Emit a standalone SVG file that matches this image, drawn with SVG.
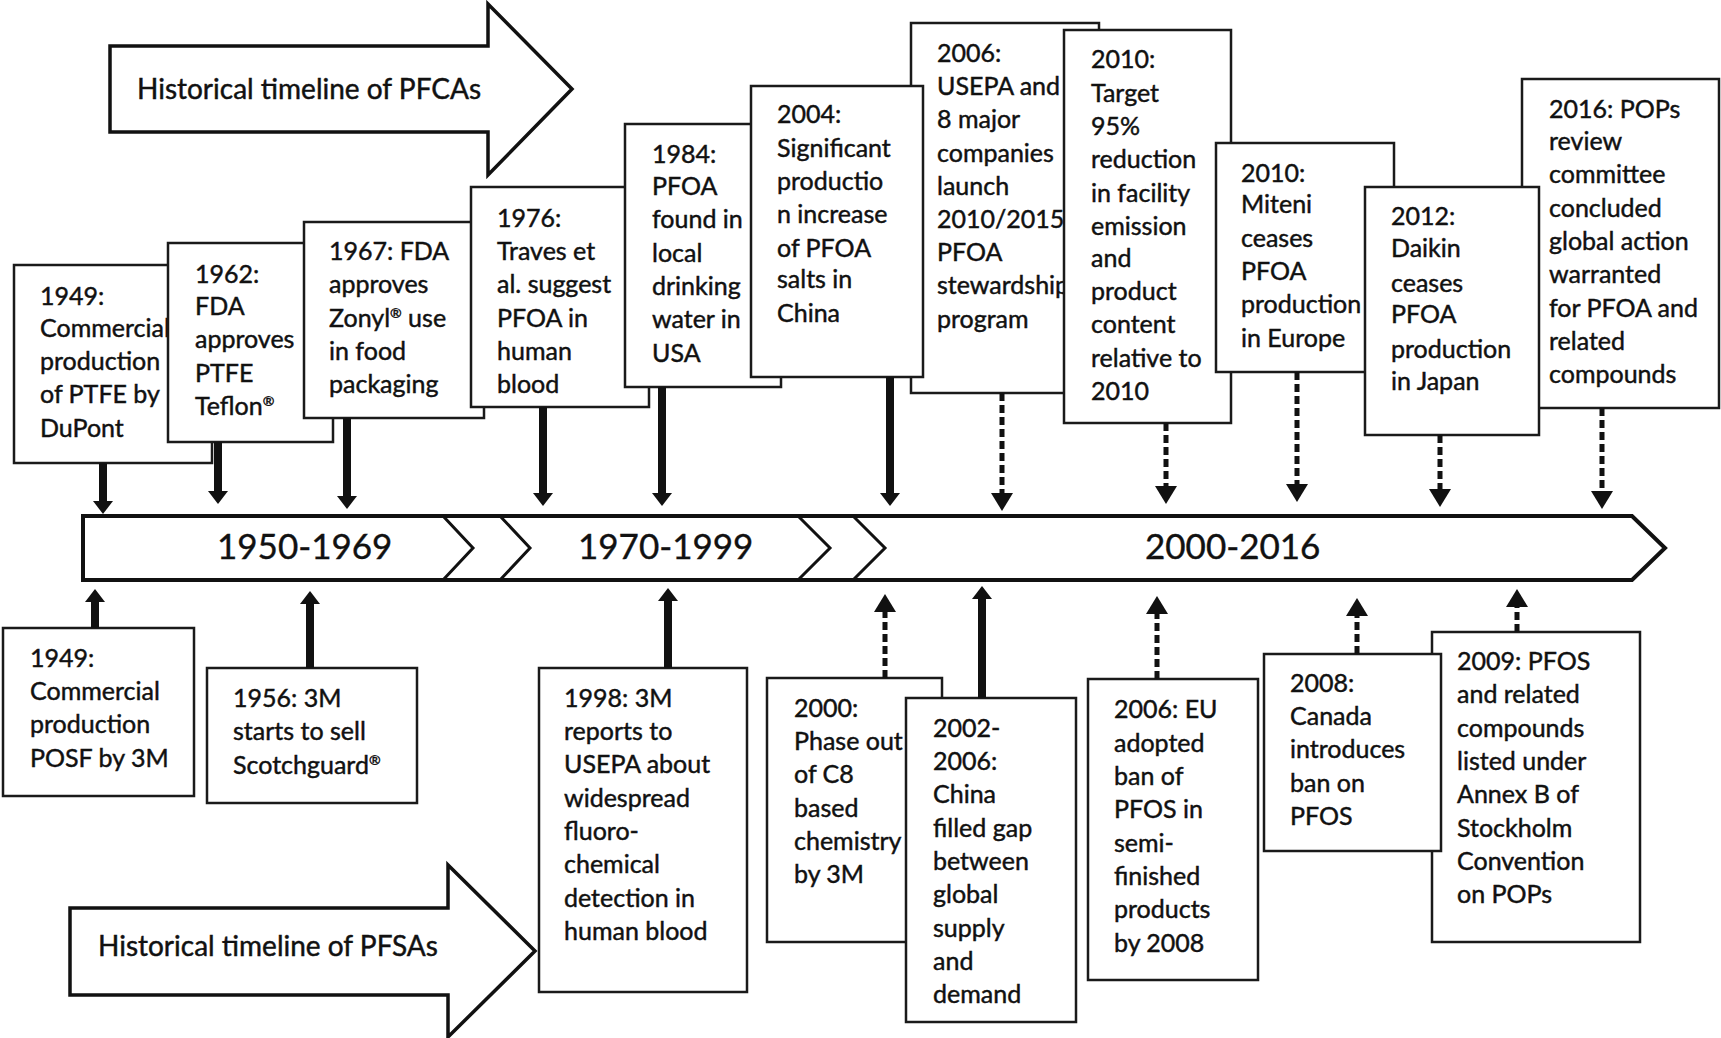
<svg xmlns="http://www.w3.org/2000/svg" width="1721" height="1038" viewBox="0 0 1721 1038">
<style>
  .bg { fill: #ffffff; }
  .box rect { fill: #ffffff; stroke: #1a1a1a; stroke-width: 2.5; }
  .box text { font-family: Lato, "Liberation Sans", sans-serif; font-size: 25px; fill: #111111; stroke: #111111; stroke-width: 0.45; }
  .big { fill: #ffffff; stroke: #111111; stroke-width: 3.5; stroke-linejoin: miter; }
  .bigtext { font-family: Lato, "Liberation Sans", sans-serif; font-size: 28px; fill: #111111; stroke: #111111; stroke-width: 0.45; }
  .period { font-family: Lato, "Liberation Sans", sans-serif; font-size: 35px; fill: #111111; stroke: #111111; stroke-width: 0.4; }
  .tl { fill: #ffffff; stroke: #111111; stroke-width: 4; stroke-linejoin: miter; }
  .chev { fill: none; stroke: #111111; stroke-width: 3; }
  .solid { fill: none; stroke: #111111; stroke-width: 8; }
  .dash { fill: none; stroke: #111111; stroke-width: 5; stroke-dasharray: 8 4; }
  .sup { font-size: 14px; }
</style>
<defs>
  <marker id="headSolid" markerUnits="userSpaceOnUse" viewBox="0 0 13 20" markerWidth="13" markerHeight="20" refX="1" refY="10" orient="auto">
    <path d="M0,0 L13,10 L0,20 Z" fill="#111111"/>
  </marker>
  <marker id="headDash" markerUnits="userSpaceOnUse" viewBox="0 0 18 22" markerWidth="18" markerHeight="22" refX="1" refY="11" orient="auto">
    <path d="M0,0 L18,11 L0,22 Z" fill="#111111"/>
  </marker>
</defs>
<rect class="bg" x="0" y="0" width="1721" height="1038"/>

<g id="pfca-arrow">
  <polygon class="big" points="110,46 488,46 488,4 572,89 488,175 488,132 110,132"/>
  <text class="bigtext" x="137" y="99">Historical timeline of PFCAs</text>
</g>

<g id="pfsa-arrow">
  <polygon class="big" points="70,908 448,908 448,865 535,951 448,1037 448,995 70,995"/>
  <text class="bigtext" x="98" y="956">Historical timeline of PFSAs</text>
</g>

<g id="timeline">
  <path class="tl" d="M83,516 H1632 L1665,548 L1632,580 H83 Z"/>
  <path class="chev" d="M443,516 L473,548 L443,580"/>
  <path class="chev" d="M500,516 L530,548 L500,580"/>
  <path class="chev" d="M798,516 L830,548 L798,580"/>
  <path class="chev" d="M853,516 L885,548 L853,580"/>
  <text class="period" x="217" y="559">1950-1969</text>
  <text class="period" x="578" y="559">1970-1999</text>
  <text class="period" x="1145" y="559">2000-2016</text>
</g>

<!-- PFCA events (top) -->
<g id="n1949-ptfe" class="box">
  <rect x="14" y="265" width="198" height="198"/>
  <text><tspan x="40" y="305">1949:</tspan><tspan x="40" y="337">Commercial</tspan><tspan x="40" y="370">production</tspan><tspan x="40" y="403">of PTFE by</tspan><tspan x="40" y="437">DuPont</tspan></text>
</g>
<g id="n1962-teflon" class="box">
  <rect x="168" y="243" width="165" height="199"/>
  <text><tspan x="195" y="283">1962:</tspan><tspan x="195" y="315">FDA</tspan><tspan x="195" y="348">approves</tspan><tspan x="195" y="382">PTFE</tspan><tspan x="195" y="415">Teflon<tspan class="sup" dy="-9">®</tspan></tspan></text>
</g>
<g id="n1967-zonyl" class="box">
  <rect x="304" y="222" width="180" height="196"/>
  <text><tspan x="329" y="260">1967: FDA</tspan><tspan x="329" y="293">approves</tspan><tspan x="329" y="327">Zonyl<tspan class="sup" dy="-9">®</tspan><tspan dy="9"> use</tspan></tspan><tspan x="329" y="360">in food</tspan><tspan x="329" y="393">packaging</tspan></text>
</g>
<g id="n1976-blood" class="box">
  <rect x="471" y="187" width="178" height="220"/>
  <text><tspan x="497" y="227">1976:</tspan><tspan x="497" y="260">Traves et</tspan><tspan x="497" y="293">al. suggest</tspan><tspan x="497" y="327">PFOA in</tspan><tspan x="497" y="360">human</tspan><tspan x="497" y="393">blood</tspan></text>
</g>
<g id="n1984-water" class="box">
  <rect x="625" y="124" width="156" height="263"/>
  <text><tspan x="652" y="163">1984:</tspan><tspan x="652" y="195">PFOA</tspan><tspan x="652" y="228">found in</tspan><tspan x="652" y="262">local</tspan><tspan x="652" y="295">drinking</tspan><tspan x="652" y="328">water in</tspan><tspan x="652" y="362">USA</tspan></text>
</g>
<g id="n2006-usepa" class="box">
  <rect x="911" y="23" width="188" height="370"/>
  <text><tspan x="937" y="62">2006:</tspan><tspan x="937" y="95">USEPA and</tspan><tspan x="937" y="128">8 major</tspan><tspan x="937" y="162">companies</tspan><tspan x="937" y="195">launch</tspan><tspan x="937" y="228">2010/2015</tspan><tspan x="937" y="261">PFOA</tspan><tspan x="937" y="294">stewardship</tspan><tspan x="937" y="328">program</tspan></text>
</g>
<g id="n2004-china" class="box">
  <rect x="751" y="86" width="172" height="291"/>
  <text><tspan x="777" y="123">2004:</tspan><tspan x="777" y="157">Significant</tspan><tspan x="777" y="190">productio</tspan><tspan x="777" y="223">n increase</tspan><tspan x="777" y="257">of PFOA</tspan><tspan x="777" y="288">salts in</tspan><tspan x="777" y="322">China</tspan></text>
</g>
<g id="n2010-target" class="box">
  <rect x="1064" y="30" width="167" height="393"/>
  <text><tspan x="1091" y="68">2010:</tspan><tspan x="1091" y="102">Target</tspan><tspan x="1091" y="135">95%</tspan><tspan x="1091" y="168">reduction</tspan><tspan x="1091" y="202">in facility</tspan><tspan x="1091" y="235">emission</tspan><tspan x="1091" y="267">and</tspan><tspan x="1091" y="300">product</tspan><tspan x="1091" y="333">content</tspan><tspan x="1091" y="367">relative to</tspan><tspan x="1091" y="400">2010</tspan></text>
</g>
<g id="n2010-miteni" class="box">
  <rect x="1216" y="143" width="178" height="229"/>
  <text><tspan x="1241" y="182">2010:</tspan><tspan x="1241" y="213">Miteni</tspan><tspan x="1241" y="247">ceases</tspan><tspan x="1241" y="280">PFOA</tspan><tspan x="1241" y="313">production</tspan><tspan x="1241" y="347">in Europe</tspan></text>
</g>
<g id="n2016-pops" class="box">
  <rect x="1522" y="79" width="197" height="329"/>
  <text><tspan x="1549" y="118">2016: POPs</tspan><tspan x="1549" y="150">review</tspan><tspan x="1549" y="183">committee</tspan><tspan x="1549" y="217">concluded</tspan><tspan x="1549" y="250">global action</tspan><tspan x="1549" y="283">warranted</tspan><tspan x="1549" y="317">for PFOA and</tspan><tspan x="1549" y="350">related</tspan><tspan x="1549" y="383">compounds</tspan></text>
</g>
<g id="n2012-daikin" class="box">
  <rect x="1365" y="187" width="174" height="248"/>
  <text><tspan x="1391" y="225">2012:</tspan><tspan x="1391" y="257">Daikin</tspan><tspan x="1391" y="292">ceases</tspan><tspan x="1391" y="323">PFOA</tspan><tspan x="1391" y="358">production</tspan><tspan x="1391" y="390">in Japan</tspan></text>
</g>

<!-- PFSA events (bottom) -->
<g id="n1949-posf" class="box">
  <rect x="3" y="628" width="191" height="168"/>
  <text><tspan x="30" y="667">1949:</tspan><tspan x="30" y="700">Commercial</tspan><tspan x="30" y="733">production</tspan><tspan x="30" y="767">POSF by 3M</tspan></text>
</g>
<g id="n1956-scotchguard" class="box">
  <rect x="207" y="668" width="210" height="135"/>
  <text><tspan x="233" y="707">1956: 3M</tspan><tspan x="233" y="740">starts to sell</tspan><tspan x="233" y="774">Scotchguard<tspan class="sup" dy="-9">®</tspan></tspan></text>
</g>
<g id="n1998-usepa" class="box">
  <rect x="539" y="668" width="208" height="324"/>
  <text><tspan x="564" y="707">1998: 3M</tspan><tspan x="564" y="740">reports to</tspan><tspan x="564" y="773">USEPA about</tspan><tspan x="564" y="807">widespread</tspan><tspan x="564" y="840">fluoro-</tspan><tspan x="564" y="873">chemical</tspan><tspan x="564" y="907">detection in</tspan><tspan x="564" y="940">human blood</tspan></text>
</g>
<g id="n2000-phaseout" class="box">
  <rect x="767" y="678" width="175" height="264"/>
  <text><tspan x="794" y="717">2000:</tspan><tspan x="794" y="750">Phase out</tspan><tspan x="794" y="783">of C8</tspan><tspan x="794" y="817">based</tspan><tspan x="794" y="850">chemistry</tspan><tspan x="794" y="883">by 3M</tspan></text>
</g>
<g id="n2002-china" class="box">
  <rect x="906" y="698" width="170" height="324"/>
  <text><tspan x="933" y="737">2002-</tspan><tspan x="933" y="770">2006:</tspan><tspan x="933" y="803">China</tspan><tspan x="933" y="837">filled gap</tspan><tspan x="933" y="870">between</tspan><tspan x="933" y="903">global</tspan><tspan x="933" y="937">supply</tspan><tspan x="933" y="970">and</tspan><tspan x="933" y="1003">demand</tspan></text>
</g>
<g id="n2006-eu" class="box">
  <rect x="1088" y="679" width="170" height="301"/>
  <text><tspan x="1114" y="718">2006: EU</tspan><tspan x="1114" y="752">adopted</tspan><tspan x="1114" y="785">ban of</tspan><tspan x="1114" y="818">PFOS in</tspan><tspan x="1114" y="852">semi-</tspan><tspan x="1114" y="885">finished</tspan><tspan x="1114" y="918">products</tspan><tspan x="1114" y="952">by 2008</tspan></text>
</g>
<g id="n2009-stockholm" class="box">
  <rect x="1432" y="632" width="208" height="310"/>
  <text><tspan x="1457" y="670">2009: PFOS</tspan><tspan x="1457" y="703">and related</tspan><tspan x="1457" y="737">compounds</tspan><tspan x="1457" y="770">listed under</tspan><tspan x="1457" y="803">Annex B of</tspan><tspan x="1457" y="837">Stockholm</tspan><tspan x="1457" y="870">Convention</tspan><tspan x="1457" y="903">on POPs</tspan></text>
</g>
<g id="n2008-canada" class="box">
  <rect x="1264" y="654" width="177" height="197"/>
  <text><tspan x="1290" y="692">2008:</tspan><tspan x="1290" y="725">Canada</tspan><tspan x="1290" y="758">introduces</tspan><tspan x="1290" y="792">ban on</tspan><tspan x="1290" y="825">PFOS</tspan></text>
</g>

<g id="connectors">
  <!-- down, solid -->
  <line class="solid" x1="103" y1="463" x2="103" y2="502" marker-end="url(#headSolid)"/>
  <line class="solid" x1="218" y1="442" x2="218" y2="492" marker-end="url(#headSolid)"/>
  <line class="solid" x1="347" y1="418" x2="347" y2="497" marker-end="url(#headSolid)"/>
  <line class="solid" x1="543" y1="407" x2="543" y2="494" marker-end="url(#headSolid)"/>
  <line class="solid" x1="662" y1="387" x2="662" y2="494" marker-end="url(#headSolid)"/>
  <line class="solid" x1="890" y1="377" x2="890" y2="494" marker-end="url(#headSolid)"/>
  <!-- down, dashed -->
  <line class="dash" x1="1002" y1="393" x2="1002" y2="494" marker-end="url(#headDash)"/>
  <line class="dash" x1="1166" y1="423" x2="1166" y2="487" marker-end="url(#headDash)"/>
  <line class="dash" x1="1297" y1="372" x2="1297" y2="485" marker-end="url(#headDash)"/>
  <line class="dash" x1="1440" y1="435" x2="1440" y2="490" marker-end="url(#headDash)"/>
  <line class="dash" x1="1602" y1="408" x2="1602" y2="492" marker-end="url(#headDash)"/>
  <!-- up, solid -->
  <line class="solid" x1="95" y1="628" x2="95" y2="601" marker-end="url(#headSolid)"/>
  <line class="solid" x1="310" y1="668" x2="310" y2="603" marker-end="url(#headSolid)"/>
  <line class="solid" x1="668" y1="668" x2="668" y2="600" marker-end="url(#headSolid)"/>
  <line class="solid" x1="982" y1="698" x2="982" y2="598" marker-end="url(#headSolid)"/>
  <!-- up, dashed -->
  <line class="dash" x1="885" y1="678" x2="885" y2="611" marker-end="url(#headDash)"/>
  <line class="dash" x1="1157" y1="679" x2="1157" y2="613" marker-end="url(#headDash)"/>
  <line class="dash" x1="1357" y1="654" x2="1357" y2="615" marker-end="url(#headDash)"/>
  <line class="dash" x1="1517" y1="632" x2="1517" y2="606" marker-end="url(#headDash)"/>
</g>
</svg>
